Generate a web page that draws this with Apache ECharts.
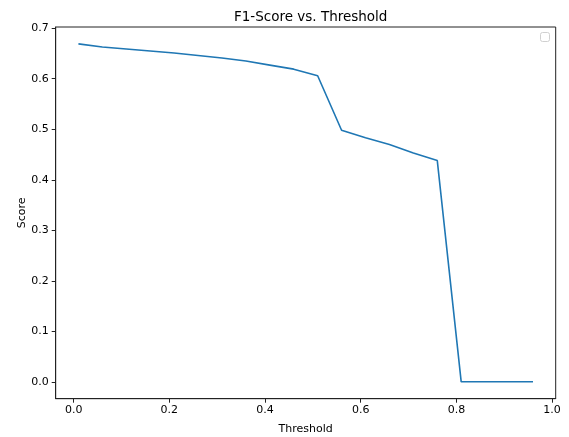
<!DOCTYPE html>
<html>
<head>
<meta charset="utf-8">
<script src="https://cdn.jsdelivr.net/npm/echarts@6/dist/echarts.min.js"></script>
<style>html,body{margin:0;padding:0;background:#fff;}#c{width:569px;height:437px;}</style>
</head>
<body>
<div id="c"></div>
<script>
const thresholds = [0.01,0.06,0.11,0.16,0.21,0.26,0.31,0.36,0.41,0.46,0.51,0.56,0.61,0.66,0.71,0.76,0.81,0.86,0.91,0.96];
const f1Scores = [0.669,0.663,0.659,0.655,0.651,0.646,0.641,0.635,0.627,0.619,0.606,0.498,0.483,0.470,0.453,0.438,0,0,0,0];
const xTicks = [0.0,0.2,0.4,0.6,0.8,1.0];
const yTicks = [0.0,0.1,0.2,0.3,0.4,0.5,0.6,0.7];
const titleText = 'F1-Score vs. Threshold';
const xLabel = 'Threshold';
const yLabel = 'Score';

const font = 'DejaVu Sans';
const xr = Math.max(...thresholds) - Math.min(...thresholds);
const yr = Math.max(...f1Scores) - Math.min(...f1Scores);
const xMin = Math.min(...thresholds) - 0.05*xr, xMax = Math.max(...thresholds) + 0.05*xr;
const yMin = Math.min(...f1Scores) - 0.05*yr, yMax = Math.max(...f1Scores) + 0.05*yr;

const chart = echarts.init(document.getElementById('c'), null, {renderer:'canvas'});
chart.setOption({
  animation:false,
  title:{text:titleText,left:305.7,textAlign:'center',top:5,textStyle:{fontFamily:font,fontSize:13.5,fontWeight:'normal',color:'#000'}},
  grid:{left:55.7,right:13.3,top:27,bottom:38.3,show:true,borderColor:'#222',borderWidth:1,containLabel:false,outerBoundsMode:'none'},
  xAxis:{type:'value',min:xMin,max:xMax,
    name:xLabel,nameLocation:'middle',nameGap:25,nameTextStyle:{fontFamily:font,fontSize:11,color:'#000'},
    axisLine:{show:true,onZero:false,lineStyle:{color:'#222',width:1}},
    axisTick:{show:true,length:4,inside:false,customValues:xTicks,lineStyle:{color:'#222',width:1}},
    axisLabel:{customValues:xTicks,formatter:v=>v.toFixed(1),fontFamily:font,fontSize:11,color:'#000',margin:6},
    splitLine:{show:false}},
  yAxis:{type:'value',min:yMin,max:yMax,
    name:yLabel,nameLocation:'middle',nameGap:28,nameRotate:90,nameMoveOverlap:false,nameTextStyle:{fontFamily:font,fontSize:11,color:'#000'},
    axisLine:{show:true,onZero:false,lineStyle:{color:'#222',width:1}},
    axisTick:{show:true,length:4,inside:false,customValues:yTicks,lineStyle:{color:'#222',width:1}},
    axisLabel:{customValues:yTicks,formatter:v=>v.toFixed(1),fontFamily:font,fontSize:11,color:'#000',margin:7},
    splitLine:{show:false}},
  graphic:[{type:'rect',right:19,top:32,shape:{width:9,height:9,r:2},style:{fill:'#fff',stroke:'#d0d0d0',lineWidth:1}}],
  series:[{type:'line',data:thresholds.map((t,i)=>[t,f1Scores[i]]),showSymbol:false,
    lineStyle:{color:'#1f77b4',width:1.6},itemStyle:{color:'#1f77b4'}}]
});
</script>
</body>
</html>
